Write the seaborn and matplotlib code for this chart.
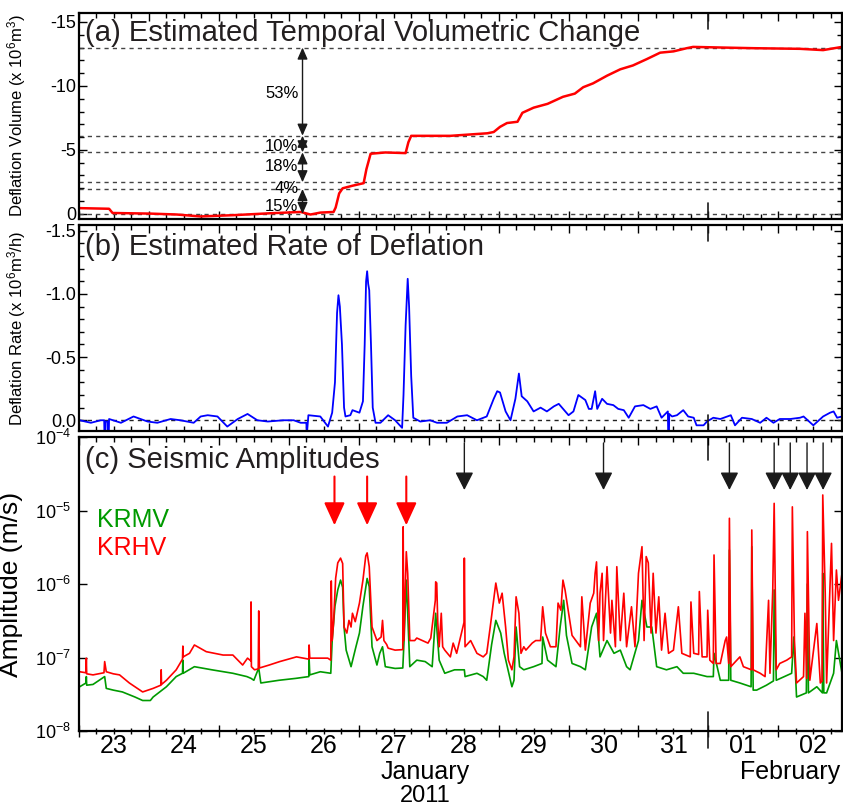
import numpy as np
import pandas as pd
import matplotlib
matplotlib.use("Agg")
import matplotlib.pyplot as plt
import matplotlib.dates as mdates
import matplotlib.ticker as mticker
import matplotlib.transforms as mtransforms
import seaborn as sns

# all times are days after 2011-01-23 00:00

# (a) deflation volume (x 10^6 m^3)
vol_days = [0.0, 0.43, 0.48, 1.03, 1.40, 1.74, 2.21, 2.74, 3.17, 3.31,
            3.45, 3.64, 3.67, 3.72, 3.77, 3.91, 4.07, 4.11, 4.17, 4.38,
            4.67, 4.71, 4.75, 5.31, 5.84, 5.93, 6.02, 6.12, 6.27, 6.34,
            6.50, 6.70, 6.92, 7.09, 7.21, 7.35, 7.55, 7.74, 7.92, 8.12,
            8.31, 8.50, 8.69, 8.78, 9.20, 9.64, 10.31, 10.64, 10.91]
vol = [-0.45, -0.40, -0.07, -0.02, 0.05, 0.20, 0.10, -0.05, -0.15, 0.05,
       -0.10, -0.15, -0.5, -1.6, -2.0, -2.2, -2.4, -3.5, -4.7, -4.8,
       -4.75, -5.6, -6.1, -6.1, -6.3, -6.4, -6.8, -7.1, -7.2, -7.9,
       -8.3, -8.6, -9.15, -9.4, -9.9, -10.2, -10.8, -11.3, -11.6, -12.1,
       -12.6, -12.7, -12.95, -13.05, -13.0, -12.95, -12.9, -12.8, -13.05]
levels = [0.0, -1.95, -2.47, -4.81, -6.11, -13.0]
pct_labels = ["53%", "10%", "18%", "4%", "15%"]
pct_y = [-9.4, -5.3, -3.7, -1.95, -0.6]
pct_arrows = [(-6.11, -13.0), (-4.81, -6.11), (-2.47, -4.81), (0.0, -1.95)]
pct_day = 3.196

# (b) deflation rate (x 10^6 m^3/h)
rate_days = [0.01, 0.17, 0.31, 0.36, 0.37, 0.38, 0.41, 0.42, 0.43, 0.60,
             0.78, 0.98, 1.12, 1.31, 1.45, 1.64, 1.74, 1.84, 1.98, 2.12,
             2.27, 2.41, 2.55, 2.70, 2.92, 3.07, 3.17, 3.25, 3.26, 3.28,
             3.45, 3.56, 3.62, 3.66, 3.69, 3.71, 3.73, 3.76, 3.79, 3.81,
             3.88, 3.91, 4.01, 4.06, 4.085, 4.105, 4.12, 4.135, 4.15, 4.175,
             4.20, 4.24, 4.31, 4.42, 4.52, 4.62, 4.64, 4.67, 4.70, 4.72,
             4.75, 4.78, 4.88, 5.02, 5.12, 5.26, 5.41, 5.55, 5.69, 5.83,
             5.93, 5.98, 6.02, 6.10, 6.17, 6.24, 6.29, 6.33, 6.41, 6.50,
             6.60, 6.69, 6.79, 6.86, 7.00, 7.07, 7.14, 7.24, 7.29, 7.33,
             7.38, 7.41, 7.48, 7.55, 7.64, 7.71, 7.79, 7.86, 7.95, 8.07,
             8.17, 8.26, 8.33, 8.42, 8.43, 8.44, 8.48, 8.55, 8.64, 8.71,
             8.79, 8.83, 8.93, 8.98, 9.07, 9.17, 9.32, 9.38, 9.48, 9.62,
             9.74, 9.83, 9.93, 10.02, 10.17, 10.31, 10.36, 10.50, 10.64, 10.74,
             10.79, 10.84, 10.91]
rate = [0.00, 0.02, 0.00, 0.00, 0.30, 0.01, 0.01, 0.30, -0.01, 0.02,
        -0.03, 0.01, 0.02, -0.01, 0.00, 0.02, -0.03, -0.04, -0.03, 0.05,
        -0.01, -0.05, 0.00, 0.01, 0.00, 0.00, 0.02, 0.02, 0.10, -0.04,
        -0.03, 0.05, -0.06, -0.30, -0.85, -0.99, -0.90, -0.60, -0.10, -0.03,
        -0.04, -0.08, -0.06, -0.15, -0.60, -1.10, -1.18, -1.08, -1.03, -0.60,
        -0.10, 0.02, 0.02, -0.04, 0.00, 0.06, -0.20, -0.75, -1.12, -0.90,
        -0.35, -0.02, 0.01, 0.00, 0.02, 0.02, -0.03, -0.04, 0.00, -0.03,
        -0.17, -0.23, -0.22, -0.07, 0.00, -0.17, -0.37, -0.19, -0.15, -0.07,
        -0.10, -0.07, -0.11, -0.13, -0.04, -0.07, -0.20, -0.16, -0.09, -0.09,
        -0.23, -0.09, -0.17, -0.13, -0.12, -0.09, -0.08, -0.02, -0.11, -0.12,
        -0.09, -0.11, -0.02, -0.07, 0.30, -0.05, -0.03, -0.04, -0.08, -0.03,
        -0.02, 0.04, 0.04, 0.01, -0.02, -0.01, -0.04, 0.04, -0.02, -0.01,
        0.02, -0.02, 0.02, -0.01, -0.01, -0.02, -0.03, 0.04, -0.03, -0.06,
        -0.07, -0.02, -0.03]

# (c) seismic amplitudes, in units of 1e-8 m/s
krhv_days = [0.01, 0.10, 0.105, 0.11, 0.20, 0.357, 0.367, 0.39, 0.49, 0.58,
             0.72, 0.87, 0.91, 1.06, 1.17, 1.175, 1.18, 1.25, 1.39, 1.48,
             1.485, 1.49, 1.58, 1.65, 1.82, 2.06, 2.20, 2.34, 2.41, 2.457,
             2.46, 2.465, 2.51, 2.563, 2.57, 2.58, 2.72, 2.87, 3.11, 3.286,
             3.29, 3.30, 3.557, 3.60, 3.607, 3.62, 3.64, 3.67, 3.70, 3.74,
             3.77, 3.79, 3.83, 3.86, 3.89, 3.91, 3.95, 4.01, 4.06, 4.10,
             4.12, 4.15, 4.19, 4.26, 4.32, 4.34, 4.36, 4.40, 4.42, 4.52,
             4.63, 4.635, 4.645, 4.68, 4.70, 4.73, 4.80, 4.83, 4.99, 5.03,
             5.095, 5.10, 5.115, 5.13, 5.15, 5.18, 5.20, 5.23, 5.31, 5.35,
             5.40, 5.505, 5.51, 5.52, 5.60, 5.69, 5.78, 5.83, 5.88, 5.96,
             6.01, 6.05, 6.10, 6.14, 6.19, 6.22, 6.25, 6.29, 6.32, 6.36,
             6.39, 6.48, 6.53, 6.60, 6.63, 6.67, 6.74, 6.82, 6.85, 6.89,
             6.92, 6.95, 7.05, 7.17, 7.19, 7.24, 7.31, 7.36, 7.38, 7.40,
             7.43, 7.45, 7.48, 7.50, 7.55, 7.60, 7.62, 7.67, 7.69, 7.74,
             7.79, 7.83, 7.90, 7.95, 8.00, 8.05, 8.08, 8.11, 8.14, 8.18,
             8.21, 8.25, 8.29, 8.33, 8.38, 8.43, 8.50, 8.57, 8.62, 8.74,
             8.75, 8.79, 8.86, 8.87, 8.91, 8.98, 8.99, 9.02, 9.07, 9.08,
             9.11, 9.17, 9.24, 9.26, 9.29, 9.30, 9.32, 9.45, 9.50, 9.615,
             9.62, 9.64, 9.74, 9.81, 9.86, 9.88, 9.92, 9.94, 9.97, 10.02,
             10.12, 10.19, 10.20, 10.23, 10.26, 10.36, 10.38, 10.405, 10.415, 10.45,
             10.55, 10.60, 10.625, 10.635, 10.67, 10.69, 10.76, 10.79, 10.83, 10.86,
             10.91]
krhv = [6.4, 6.2, 9.8, 6.0, 5.8, 6.2, 8.8, 6.4, 6.0, 5.8,
        4.5, 3.6, 3.4, 3.8, 4.2, 6.8, 4.3, 4.9, 6.8, 9.5,
        14.3, 10.2, 11.4, 14.8, 12.0, 10.8, 10.8, 7.9, 9.8, 9.0,
        57, 7.5, 6.8, 7.0, 43, 7.2, 7.9, 8.8, 10.2, 9.5,
        14.8, 9.8, 9.8, 9.2, 110, 17, 30, 120, 194, 225,
        190, 26, 21.5, 32, 26, 40, 30.7, 55, 113, 240,
        265, 172, 26, 17, 19, 32, 17, 15, 13.4, 12.6,
        12.8, 600, 17, 275, 140, 17, 17, 18.4, 15.7, 18.4,
        60, 107, 103, 30, 14, 40, 14, 12.6, 10.2, 15.7,
        11.4, 30, 225, 14, 17, 11.4, 10.2, 11.4, 26, 103,
        55, 75, 26, 9.2, 6.8, 10.2, 67, 40, 11.4, 14,
        12.6, 15.7, 17, 17, 49, 21.5, 14, 14, 55, 44,
        113, 83, 20, 14, 67, 12.6, 55, 75, 140, 200,
        17, 75, 140, 17, 172, 21.5, 60, 14, 172, 17,
        75, 14, 49, 14, 140, 322, 17, 236, 194, 21.5,
        140, 21.5, 67, 12.6, 40, 11.4, 12.6, 49, 11.4, 10.2,
        57, 11.4, 11, 79, 10.2, 10.2, 44, 9.2, 8.3, 248,
        8.3, 8.3, 17, 19, 8.3, 783, 7.5, 10.2, 7.5, 6.8,
        543, 6.8, 6.1, 5.5, 60, 6.1, 83, 1250, 6.8, 8.3,
        9.2, 10.2, 1120, 17, 4.5, 5.5, 40, 5.2, 515, 4.9,
        29, 4.5, 4.8, 1625, 75, 4.5, 357, 17, 155, 60,
        140]
krmv_days = [0.01, 0.10, 0.105, 0.11, 0.20, 0.367, 0.39, 0.49, 0.62, 0.80,
             0.91, 1.02, 1.06, 1.25, 1.39, 1.48, 1.485, 1.49, 1.65, 1.90,
             2.20, 2.40, 2.46, 2.50, 2.57, 2.60, 2.86, 3.10, 3.286, 3.29,
             3.30, 3.45, 3.60, 3.62, 3.66, 3.70, 3.74, 3.77, 3.79, 3.82,
             3.89, 3.96, 4.01, 4.06, 4.12, 4.15, 4.19, 4.26, 4.30, 4.34,
             4.38, 4.52, 4.63, 4.65, 4.68, 4.70, 4.73, 4.83, 4.95, 5.05,
             5.10, 5.15, 5.23, 5.37, 5.51, 5.52, 5.69, 5.78, 5.83, 5.90,
             5.96, 6.03, 6.08, 6.19, 6.22, 6.25, 6.30, 6.36, 6.50, 6.62,
             6.63, 6.70, 6.82, 6.88, 6.93, 6.97, 7.05, 7.17, 7.24, 7.33,
             7.40, 7.45, 7.55, 7.65, 7.74, 7.83, 7.88, 8.00, 8.05, 8.12,
             8.19, 8.26, 8.40, 8.55, 8.64, 8.79, 8.98, 9.07, 9.08, 9.17,
             9.29, 9.30, 9.32, 9.45, 9.61, 9.62, 9.64, 9.69, 9.83, 9.93,
             9.94, 9.97, 10.19, 10.22, 10.26, 10.40, 10.415, 10.43, 10.55, 10.63,
             10.635, 10.65, 10.69, 10.79, 10.83, 10.91]
krmv = [4.0, 4.5, 5.5, 4.2, 4.3, 5.5, 3.8, 3.6, 3.4, 2.9,
        2.6, 2.6, 2.9, 4.0, 5.5, 6.1, 9.2, 6.1, 7.5, 6.8,
        6.1, 5.5, 5.2, 4.9, 7.2, 4.5, 4.9, 5.2, 5.5, 9.8,
        5.8, 6.4, 6.1, 17, 50, 83, 113, 90, 26, 12.6,
        7.5, 14, 21.5, 50, 119, 92, 14, 7.9, 11.4, 14,
        7.5, 7.1, 7.2, 19, 113, 40, 7.5, 9.2, 8.8, 7.5,
        40, 9.2, 6.1, 6.8, 6.8, 5.5, 6.1, 5.5, 4.9, 15,
        32, 21.5, 11.4, 4.0, 4.9, 26, 7.5, 6.8, 7.5, 8.3,
        19, 9.2, 7.5, 26, 60, 20, 8.3, 7.5, 6.8, 26,
        40, 10.2, 17, 11.4, 12.6, 7.5, 6.8, 17, 60, 26,
        26, 7.5, 6.8, 7.5, 6.1, 6.1, 5.5, 5.5, 11.4, 4.9,
        4.9, 290, 4.9, 4.5, 4.0, 322, 3.6, 3.6, 4.2, 4.8,
        83, 4.9, 6.1, 19, 2.9, 3.3, 100, 3.3, 4.0, 3.3,
        140, 3.3, 3.3, 6.1, 17, 6.1]
red_arrow_days = [3.653, 4.12, 4.68]
black_arrow_days = [5.51, 7.50, 9.30, 9.94, 10.17, 10.41, 10.64]

sns.set_theme(style="ticks", rc={"axes.edgecolor": "black", "xtick.color": "black",
                                 "ytick.color": "black", "text.color": "black",
                                 "axes.labelcolor": "black"})
plt.rcParams["font.family"] = ["Liberation Sans", "DejaVu Sans"]
plt.rcParams["mathtext.default"] = "regular"
plt.rcParams["axes.unicode_minus"] = False

t0 = pd.Timestamp("2011-01-23")
x0 = mdates.date2num(t0)
TITLE_C = "#231f20"


def to_time(days):
    return t0 + pd.to_timedelta(np.asarray(days, dtype=float), unit="D")


W, H = 843, 809


def box(top, bottom, left=79, right=842):
    return [left / W, 1 - bottom / H, (right - left) / W, (bottom - top) / H]


fig = plt.figure(figsize=(W / 100, H / 100), dpi=100)
ax_a = fig.add_axes(box(13, 219))
ax_b = fig.add_axes(box(225, 431))
ax_c = fig.add_axes(box(437, 731))

sns.lineplot(x=to_time(vol_days), y=vol, ax=ax_a, color="#ff0000", lw=1.8,
             estimator=None, sort=False, legend=False)
sns.lineplot(x=to_time(rate_days), y=rate, ax=ax_b, color="#0000ff", lw=1.3,
             estimator=None, sort=False, legend=False)
ax_c.set_yscale("log")
sns.lineplot(x=to_time(krmv_days), y=np.array(krmv) * 1e-8, ax=ax_c, color="#009a00",
             lw=1.2, estimator=None, sort=False, legend=False)
sns.lineplot(x=to_time(krhv_days), y=np.array(krhv) * 1e-8, ax=ax_c, color="#ff0000",
             lw=1.2, estimator=None, sort=False, legend=False)

ax_a.set_ylim(0.4, -15.7)
ax_b.set_ylim(0.085, -1.546)
ax_c.set_ylim(1e-8, 1e-4)


def noon_label(v, pos=None):
    t = mdates.num2date(v)
    return t.strftime("%d") if abs(t.hour + t.minute / 60 - 12) < 0.2 else ""


for ax in (ax_a, ax_b, ax_c):
    ax.set_xlim(x0 + 0.0, x0 + 10.91)
    ax.xaxis.set_major_locator(mdates.DayLocator())
    ax.xaxis.set_minor_locator(mdates.HourLocator(byhour=[6, 12, 18]))
    ax.xaxis.set_major_formatter(mticker.NullFormatter())
    ax.xaxis.set_minor_formatter(mticker.NullFormatter())
    ax.tick_params(which="both", direction="in", top=True, right=True, width=1)
    ax.tick_params(which="major", length=6)
    ax.tick_params(which="minor", length=3.5)
    ax.tick_params(axis="y", labelsize=13, pad=2)
    for s in ax.spines.values():
        s.set_linewidth(1.6)
    ax.set_xlabel("")

ax_c.xaxis.set_minor_formatter(mticker.FuncFormatter(noon_label))

ax_a.yaxis.set_major_locator(mticker.FixedLocator([-15, -10, -5, 0]))
ax_a.yaxis.set_minor_locator(mticker.MultipleLocator(1))
ax_a.yaxis.set_major_formatter(mticker.FormatStrFormatter("%d"))
ax_b.yaxis.set_major_locator(mticker.FixedLocator([-1.5, -1.0, -0.5, 0.0]))
ax_b.yaxis.set_minor_locator(mticker.MultipleLocator(0.1))
ax_b.yaxis.set_major_formatter(mticker.FormatStrFormatter("%.1f"))
ax_c.yaxis.set_major_locator(mticker.LogLocator(base=10))
ax_c.yaxis.set_minor_locator(mticker.NullLocator())
ax_c.tick_params(axis="y", pad=6)

# bottom ticks of (c) cross the axis; top ticks stay inside
ax_c.tick_params(axis="x", which="both", top=False, direction="inout", labelsize=18, pad=0)
ax_c.tick_params(axis="x", which="major", length=8)
ax_c.tick_params(axis="x", which="minor", length=5)
ax_top = ax_c.twiny()
ax_top.set_xlim(ax_c.get_xlim())
ax_top.xaxis.set_major_locator(mdates.DayLocator())
ax_top.xaxis.set_minor_locator(mdates.HourLocator(byhour=[6, 12, 18]))
ax_top.xaxis.set_major_formatter(mticker.NullFormatter())
ax_top.xaxis.set_minor_formatter(mticker.NullFormatter())
ax_top.tick_params(which="both", direction="in", top=True, labeltop=False, width=1)
ax_top.tick_params(which="major", length=6)
ax_top.tick_params(which="minor", length=3.5)
for s in ax_top.spines.values():
    s.set_visible(False)

# longer tick at the month boundary
feb1 = x0 + 9.0
for ax, lo, hi in ((ax_a, 0.078, 0.922), (ax_b, 0.078, 0.922), (ax_c, 0.065, 0.922)):
    tr = mtransforms.blended_transform_factory(ax.transData, ax.transAxes)
    bottom_start = -0.058 if ax is ax_c else 0.0
    ax.plot([feb1, feb1], [bottom_start, lo], transform=tr, color="k", lw=1.2, clip_on=False)
    ax.plot([feb1, feb1], [hi, 1.0], transform=tr, color="k", lw=1.2, clip_on=False)

# (a) guide lines, percentages and arrows
for lv in levels:
    ax_a.axhline(lv, color="#444444", lw=1, ls=(0, (3, 3)), zorder=1)
for lo_v, hi_v in pct_arrows:
    ax_a.annotate("", xy=(x0 + pct_day, hi_v), xytext=(x0 + pct_day, lo_v),
                  arrowprops=dict(arrowstyle="<|-|>,head_length=0.5,head_width=0.22",
                                  color="k", lw=1, mutation_scale=14,
                                  shrinkA=0, shrinkB=0))
for lab, yv in zip(pct_labels, pct_y):
    ax_a.text(x0 + pct_day - 0.06, yv, lab, ha="right", va="center", fontsize=12)
ax_b.axhline(0.0, color="#222222", lw=1, ls=(0, (3, 3)), zorder=1)

# (c) arrows
for d in red_arrow_days:
    ax_c.annotate("", xy=(x0 + d, 6.3e-6), xytext=(x0 + d, 2.9e-5),
                  arrowprops=dict(arrowstyle="-|>,head_length=0.7,head_width=0.32",
                                  color="#ff0000", lw=1.5, mutation_scale=20,
                                  shrinkA=0, shrinkB=0))
for d in black_arrow_days:
    ax_c.annotate("", xy=(x0 + d, 1.9e-5), xytext=(x0 + d, 8.3e-5),
                  arrowprops=dict(arrowstyle="-|>,head_length=0.55,head_width=0.28",
                                  color="k", lw=1, mutation_scale=20,
                                  shrinkA=0, shrinkB=0))

ax_c.text(0.024, 0.718, "KRMV", transform=ax_c.transAxes, color="#009a00",
          fontsize=18, va="center", ha="left")
ax_c.text(0.024, 0.622, "KRHV", transform=ax_c.transAxes, color="#ff0000",
          fontsize=18, va="center", ha="left")

# panel titles
ax_a.text(0.008, 0.905, "(a) Estimated Temporal Volumetric Change", transform=ax_a.transAxes,
          fontsize=21, va="center", ha="left", color=TITLE_C)
ax_b.text(0.008, 0.893, "(b) Estimated Rate of Deflation", transform=ax_b.transAxes,
          fontsize=21, va="center", ha="left", color=TITLE_C)
ax_c.text(0.008, 0.922, "(c) Seismic Amplitudes", transform=ax_c.transAxes,
          fontsize=21, va="center", ha="left", color=TITLE_C)

ax_a.set_ylabel("Deflation Volume (x 10$^{6}$m$^{3}$)", fontsize=12)
ax_b.set_ylabel("Deflation Rate (x 10$^{6}$m$^{3}$/h)", fontsize=12)
ax_c.set_ylabel("Amplitude (m/s)", fontsize=19)
ax_a.yaxis.set_label_coords(-0.067, 0.5)
ax_b.yaxis.set_label_coords(-0.067, 0.5)
ax_c.yaxis.set_label_coords(-0.073, 0.5)

trc = mtransforms.blended_transform_factory(ax_c.transData, ax_c.transAxes)
ax_c.text(x0 + 4.95, -0.14, "January", transform=trc, ha="center", va="center", fontsize=18)
ax_c.text(x0 + 10.17, -0.14, "February", transform=trc, ha="center", va="center", fontsize=18)
ax_c.text(x0 + 4.95, -0.221, "2011", transform=trc, ha="center", va="center", fontsize=17)

fig.savefig("out.png", dpi=100)
